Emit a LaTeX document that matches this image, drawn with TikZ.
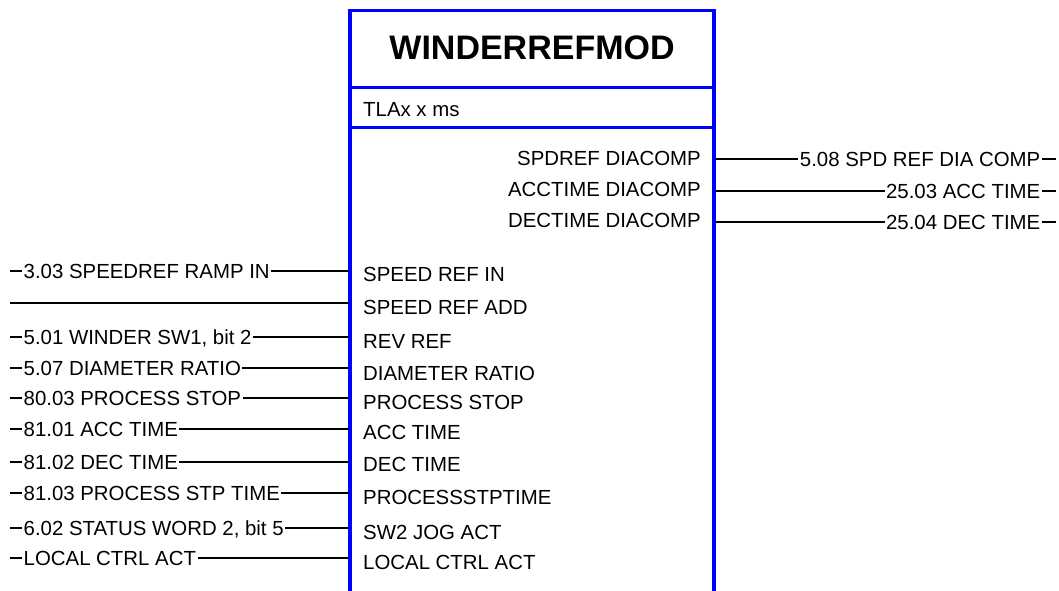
\documentclass[tikz,border=0pt]{standalone}
\usepackage{fontspec}
\setmainfont{Liberation Sans}
\definecolor{blockblue}{RGB}{0,0,255}
\tikzset{
  blockline/.style={draw=blockblue, line width=3.3pt, line join=miter},
  wire/.style={line width=1.2pt},
  sig/.style={fill=white, inner xsep=1.5pt, inner ysep=0pt, text height=14.6pt, text depth=0pt, font=\fontsize{20.4}{24}\selectfont},
  pinlbl/.style={inner sep=0pt, text height=14.6pt, text depth=0pt, font=\fontsize{20.4}{24}\selectfont}
}
\begin{document}
\begin{tikzpicture}[x=1pt,y=-1pt]
\useasboundingbox (0,0) rectangle (1059,591);

\draw[blockline] (350,600) -- (350,10.5) -- (714,10.5) -- (714,600);
\draw[blockline] (350,87.5) -- (714,87.5);
\draw[blockline] (350,127.5) -- (714,127.5);
\node[font=\fontsize{34}{40}\selectfont\bfseries] (title) at (532,48) {WINDERREFMOD};
\node[pinlbl, anchor=west] (cycle) at (363,109) {TLAx x ms};

\coordinate (outA) at (715,159);
\coordinate (outAe) at (1056,159);
\coordinate (outB) at (715,191);
\coordinate (outBe) at (1056,191);
\coordinate (outC) at (715,222);
\coordinate (outCe) at (1056,222);
\draw[wire] (outA) -- (outAe);
\draw[wire] (outB) -- (outBe);
\draw[wire] (outC) -- (outCe);
\node[sig, anchor=east] (sigOutA) at (1042,159) {5.08 SPD REF DIA COMP};
\node[sig, anchor=east] (sigOutB) at (1042,191) {25.03 ACC TIME};
\node[sig, anchor=east] (sigOutC) at (1042,222) {25.04 DEC TIME};
\node[pinlbl, anchor=east] (pinOutA) at (701,158) {SPDREF DIACOMP};
\node[pinlbl, anchor=east] (pinOutB) at (701,189) {ACCTIME DIACOMP};
\node[pinlbl, anchor=east] (pinOutC) at (701,220) {DECTIME DIACOMP};

\coordinate (inA) at (10,271);
\coordinate (inAe) at (349,271);
\coordinate (inB) at (10,303);
\coordinate (inBe) at (349,303);
\coordinate (inC) at (10,337);
\coordinate (inCe) at (349,337);
\coordinate (inD) at (10,368);
\coordinate (inDe) at (349,368);
\coordinate (inE) at (10,398);
\coordinate (inEe) at (349,398);
\coordinate (inF) at (10,429);
\coordinate (inFe) at (349,429);
\coordinate (inG) at (10,462);
\coordinate (inGe) at (349,462);
\coordinate (inH) at (10,493);
\coordinate (inHe) at (349,493);
\coordinate (inI) at (10,528);
\coordinate (inIe) at (349,528);
\coordinate (inJ) at (10,558);
\coordinate (inJe) at (349,558);
\draw[wire] (inA) -- (inAe);
\draw[wire] (inB) -- (inBe);
\draw[wire] (inC) -- (inCe);
\draw[wire] (inD) -- (inDe);
\draw[wire] (inE) -- (inEe);
\draw[wire] (inF) -- (inFe);
\draw[wire] (inG) -- (inGe);
\draw[wire] (inH) -- (inHe);
\draw[wire] (inI) -- (inIe);
\draw[wire] (inJ) -- (inJe);

\node[sig, anchor=west] (sigA) at (22,271) {3.03 SPEEDREF RAMP IN};
\node[sig, anchor=west] (sigC) at (22,337) {5.01 WINDER SW1, bit 2};
\node[sig, anchor=west] (sigD) at (22,368) {5.07 DIAMETER RATIO};
\node[sig, anchor=west] (sigE) at (22,398) {80.03 PROCESS STOP};
\node[sig, anchor=west] (sigF) at (22,429) {81.01 ACC TIME};
\node[sig, anchor=west] (sigG) at (22,462) {81.02 DEC TIME};
\node[sig, anchor=west] (sigH) at (22,493) {81.03 PROCESS STP TIME};
\node[sig, anchor=west] (sigI) at (22,528) {6.02 STATUS WORD 2, bit 5};
\node[sig, anchor=west] (sigJ) at (22,558) {LOCAL CTRL ACT};

\node[pinlbl, anchor=west] (pinA) at (363,274) {SPEED REF IN};
\node[pinlbl, anchor=west] (pinB) at (363,307) {SPEED REF ADD};
\node[pinlbl, anchor=west] (pinC) at (363,341) {REV REF};
\node[pinlbl, anchor=west] (pinD) at (363,373) {DIAMETER RATIO};
\node[pinlbl, anchor=west] (pinE) at (363,402) {PROCESS STOP};
\node[pinlbl, anchor=west] (pinF) at (363,432) {ACC TIME};
\node[pinlbl, anchor=west] (pinG) at (363,464) {DEC TIME};
\node[pinlbl, anchor=west] (pinH) at (363,497) {PROCESSSTPTIME};
\node[pinlbl, anchor=west] (pinI) at (363,532) {SW2 JOG ACT};
\node[pinlbl, anchor=west] (pinJ) at (363,562) {LOCAL CTRL ACT};
\end{tikzpicture}
\end{document}
